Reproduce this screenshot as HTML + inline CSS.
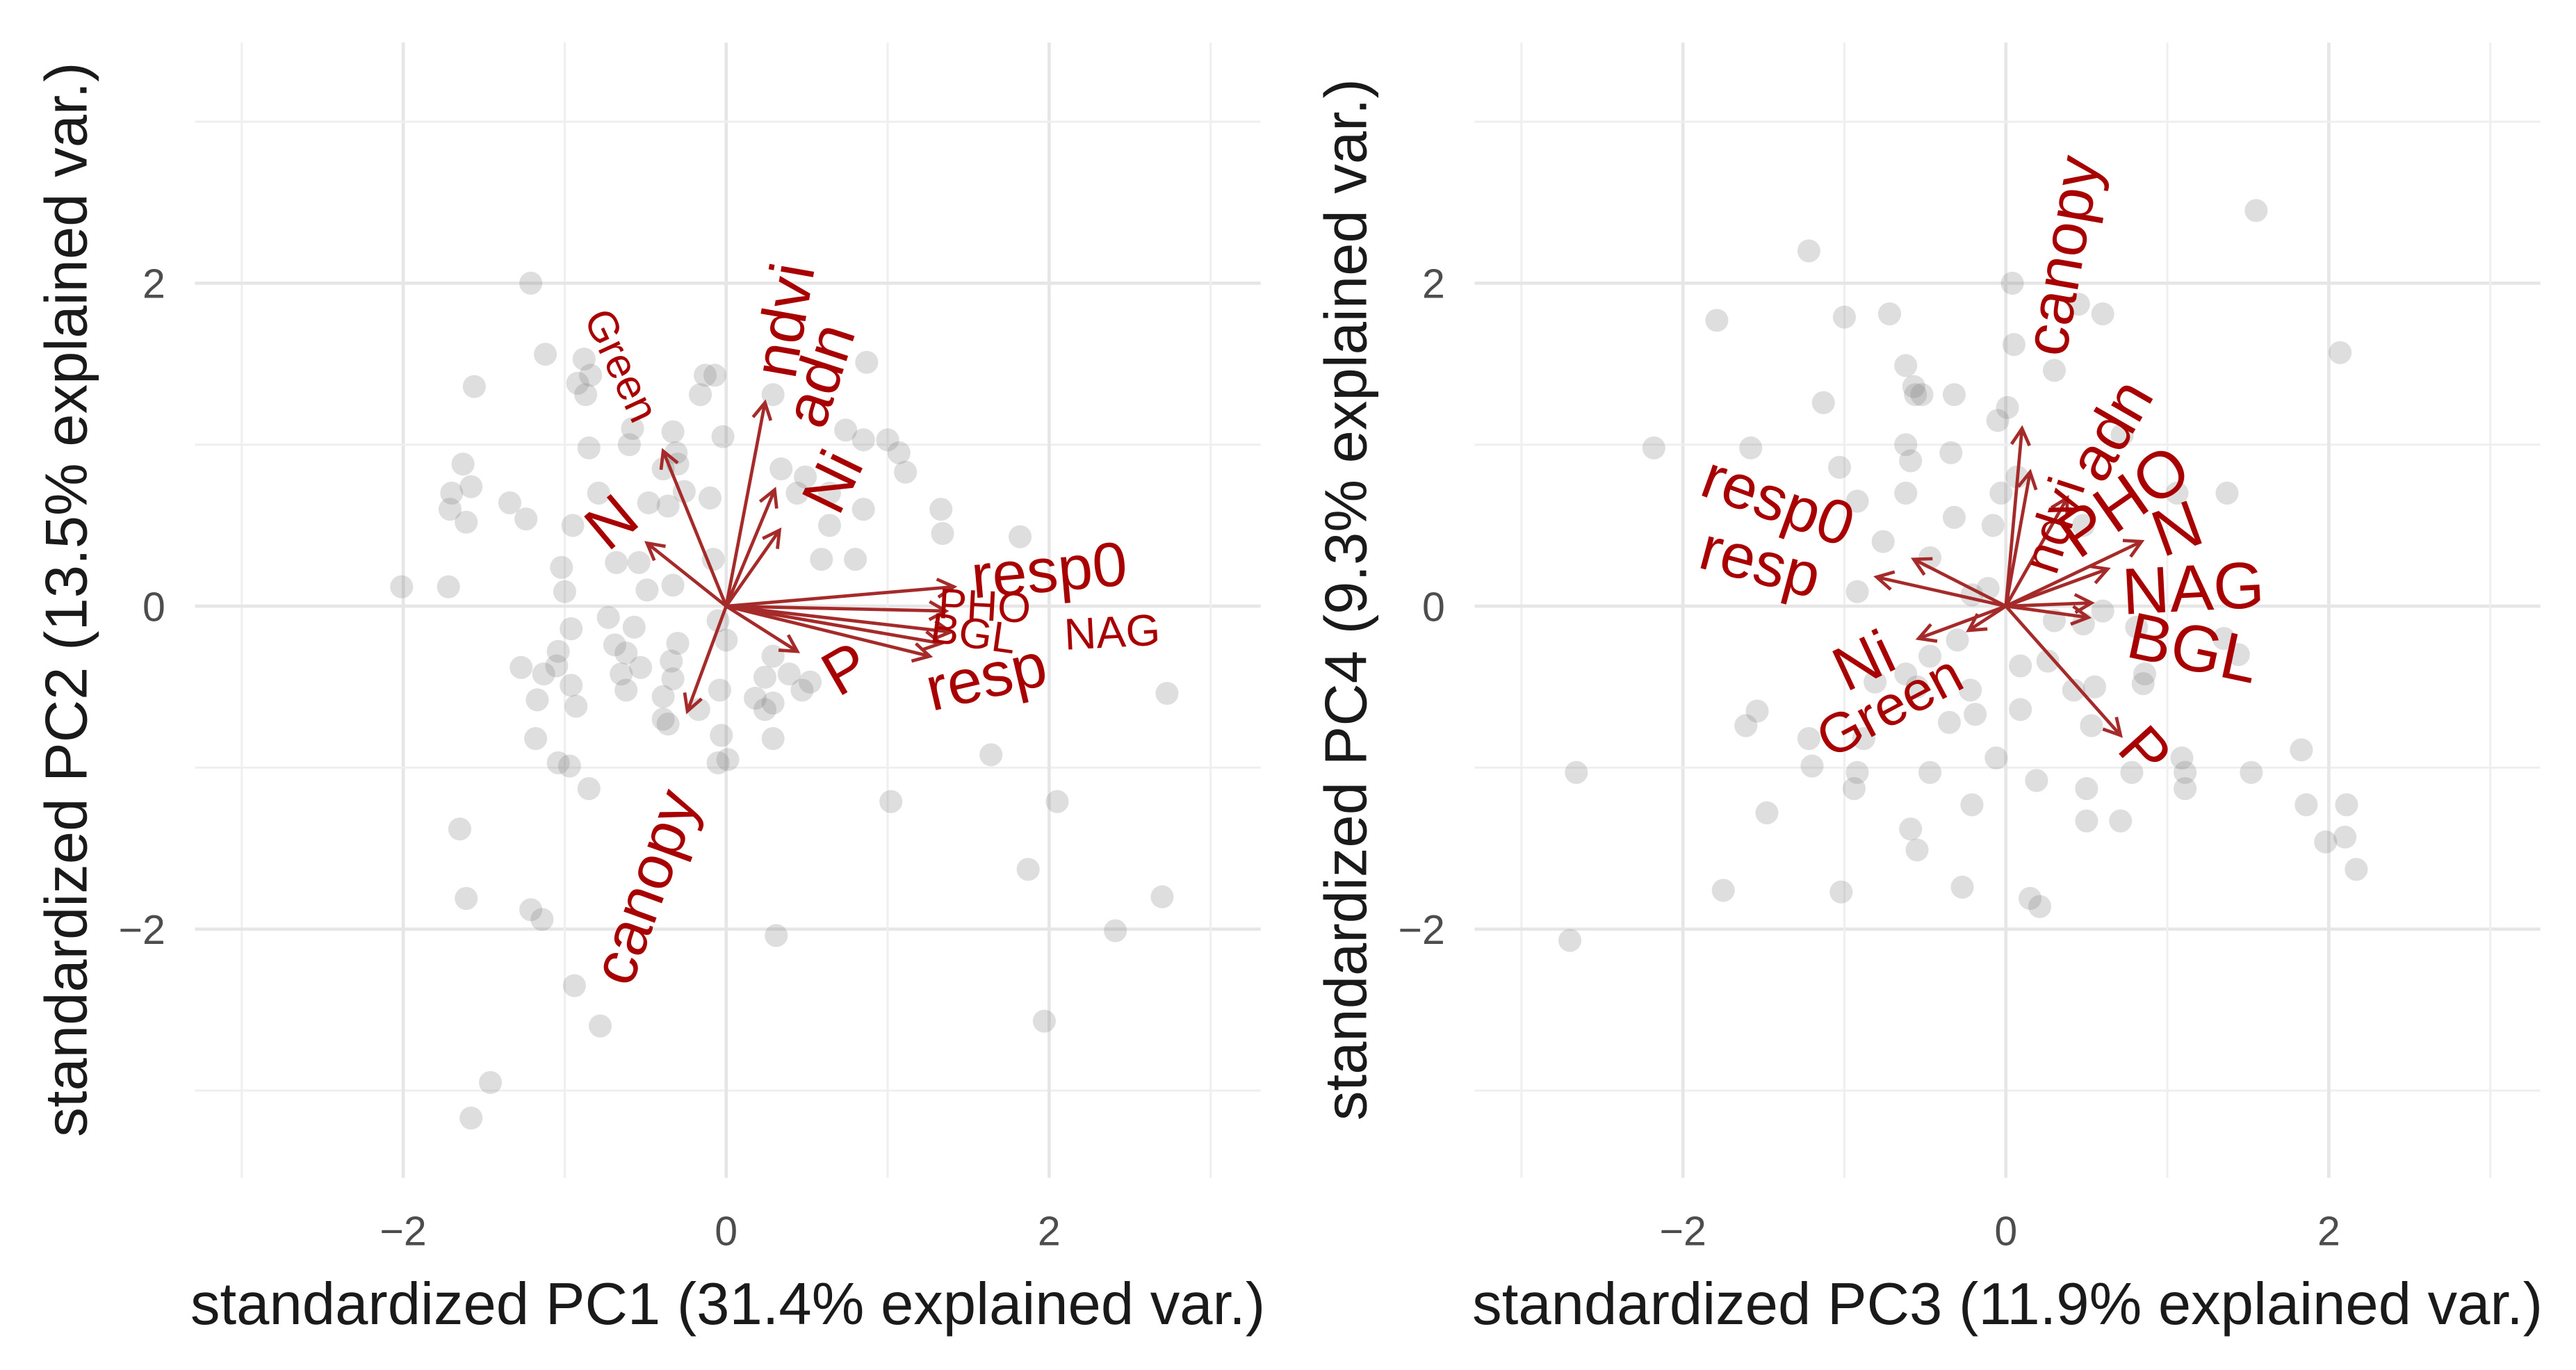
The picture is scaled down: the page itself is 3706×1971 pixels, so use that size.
<!DOCTYPE html>
<html><head><meta charset="utf-8"><style>
html,body{margin:0;padding:0;background:#fff;}
svg{display:block;font-family:"Liberation Sans",Arial,sans-serif;}
</style></head>
<body>
<svg id="chart" width="3706" height="1971" viewBox="0 0 1568 834" xmlns="http://www.w3.org/2000/svg">
<defs>
<marker id="ah" markerWidth="14" markerHeight="14" refX="11" refY="7" orient="auto" markerUnits="userSpaceOnUse">
<path d="M1,1.5 L11,7 L1,12.5" fill="none" stroke="#a52a2a" stroke-width="2"/>
</marker>
</defs>
<g id="p1"></g>
<g id="p2"></g>
</svg>
<script>
const ticks = [-2, 0, 2];
const gridVals = [-3, -2, -1, 0, 1, 2, 3];
const titles1 = ["standardized PC1 (31.4% explained var.)", "standardized PC2 (13.5% explained var.)"];
const titles2 = ["standardized PC3 (11.9% explained var.)", "standardized PC4 (9.3% explained var.)"];

const pts1x = [-2.01,-1.21,-1.12,-1.56,-1.63,-1.70,-1.71,-1.58,-1.61,-1.34,-1.24,-1.72,-0.88,-0.84,-0.92,-0.87,-0.58,-0.85,-0.79,-0.95,-1.02,-1.0,-0.96,-1.04,-1.05,-1.13,-1.27,-0.96,-0.93,-1.17,-1.04,-0.97,-0.85,-1.18,-1.65,-1.61,-1.21,-1.14,-0.94,-0.78,-1.46,-1.58,-0.73,-0.69,-0.62,-0.57,-0.65,-0.62,-0.53,-0.33,-0.39,-0.39,-0.36,-0.34,-0.30,-0.54,-0.49,-0.68,-0.48,-0.36,-0.26,-0.33,-0.31,-0.30,-0.39,-0.60,-0.13,-0.07,-0.16,-0.02,-0.10,-0.08,-0.33,-0.05,0.0,-0.04,-0.17,-0.03,-0.05,0.01,0.18,0.24,0.24,0.29,0.29,0.39,0.47,0.52,0.29,0.31,0.34,0.44,0.49,0.64,0.64,0.59,0.80,0.74,0.85,0.87,0.29,0.85,1.0,1.07,1.11,1.33,1.34,1.82,1.02,1.64,1.87,2.05,1.97,2.41,2.73,2.70];
const pts1y = [0.12,2.0,1.56,1.36,0.88,0.70,0.6,0.74,0.52,0.64,0.54,0.12,1.53,1.43,1.38,1.31,1.1,0.98,0.7,0.5,0.24,0.09,-0.14,-0.28,-0.37,-0.42,-0.38,-0.49,-0.62,-0.58,-0.97,-0.99,-1.13,-0.82,-1.38,-1.81,-1.88,-1.94,-2.35,-2.6,-2.95,-3.17,-0.07,-0.24,-0.29,-0.13,-0.42,-0.52,-0.38,-0.45,-0.56,-0.70,-0.73,-0.34,-0.23,0.27,0.10,0.27,0.64,0.62,0.71,1.08,0.95,0.88,0.85,1.0,1.43,1.43,1.31,1.05,0.67,0.29,0.13,-0.09,-0.21,-0.52,-0.64,-0.80,-0.97,-0.95,-0.57,-0.64,-0.44,-0.31,-0.60,-0.42,-0.52,-0.47,-0.82,-2.04,0.85,0.70,0.80,0.70,0.50,0.29,0.29,1.09,1.03,1.51,1.31,0.6,1.03,0.95,0.83,0.6,0.45,0.43,-1.21,-0.92,-1.63,-1.21,-2.57,-2.01,-0.54,-1.80];

const pts2x = [1.55,-1.22,-1.79,-1.0,-0.72,0.04,0.45,0.60,-2.18,-1.58,-1.13,-0.62,-0.57,-0.56,-0.52,-0.62,-0.59,-0.32,-0.34,-0.05,0.01,0.05,0.30,0.72,1.06,1.37,2.07,-1.03,-0.62,-0.92,-0.76,-0.32,-0.08,-0.03,0.07,0.48,-0.47,-0.92,-0.21,-0.11,0.30,0.48,0.60,0.81,1.35,1.44,-0.30,0.09,0.26,0.42,0.55,0.85,0.86,-0.81,-0.62,-0.47,-0.19,-0.35,-0.22,0.09,0.53,-1.54,-1.61,-1.22,-1.20,-0.92,-0.94,-0.47,-0.06,0.19,0.78,1.09,1.11,1.11,1.52,1.83,1.86,2.11,2.10,1.98,2.17,-2.66,-2.70,-1.75,-1.48,-1.02,-0.59,-0.55,-0.27,-0.21,0.15,0.21,0.50,0.50,0.71,-0.88,-0.55];
const pts2y = [2.45,2.2,1.77,1.79,1.81,2.0,1.87,1.81,0.98,0.98,1.26,1.49,1.36,1.31,1.31,1.0,0.90,1.31,0.95,1.15,1.23,1.62,1.46,1.06,0.70,0.70,1.57,0.86,0.70,0.65,0.40,0.55,0.50,0.70,0.80,0.50,0.30,0.09,0.07,0.11,-0.09,-0.11,-0.03,-0.13,-0.20,-0.30,-0.21,-0.37,-0.34,-0.52,-0.50,-0.48,-0.42,-0.47,-0.42,-0.31,-0.67,-0.72,-0.52,-0.64,-0.74,-0.65,-0.74,-0.82,-0.99,-1.03,-1.13,-1.03,-0.94,-1.08,-1.03,-0.94,-1.03,-1.13,-1.03,-0.89,-1.23,-1.23,-1.43,-1.46,-1.63,-1.03,-2.07,-1.76,-1.28,-1.77,-1.38,-1.51,-1.74,-1.23,-1.81,-1.86,-1.13,-1.33,-1.33,-0.82,-0.50];

const vars1 = ["Green","N","ndvi","adn","Ni","resp0","PHO","BGL","NAG","resp","P","canopy"];
const arr1x = [-0.39,-0.49,0.24,0.30,0.33,1.41,1.36,1.33,1.39,1.26,0.44,-0.24];
const arr1y = [0.96,0.39,1.26,0.72,0.47,0.12,-0.03,-0.23,-0.16,-0.31,-0.28,-0.65];
const lab1x = [-0.65,-0.71,0.36,0.58,0.66,2.0,1.6,1.53,2.39,1.61,0.74,-0.5];
const lab1y = [1.49,0.52,1.77,1.43,0.77,0.22,0.0,-0.17,-0.16,-0.44,-0.39,-1.74];
const lab1rot = [65,-40,-80,-72,-64,-5,3,8,-3,-13,-30,-70];
const lab1size = [26,38,38,38,38,38,26,26,27,38,38,38];

const vars2 = ["canopy","ndvi","adn","PHO","N","NAG","BGL","P","resp0","resp","Ni","Green"];
const arr2x = [0.10,0.15,0.38,0.84,0.63,0.53,0.51,0.71,-0.57,-0.80,-0.54,-0.23];
const arr2y = [1.10,0.83,0.67,0.40,0.23,0.02,-0.07,-0.80,0.29,0.18,-0.20,-0.15];
const lab2x = [0.35,0.30,0.65,0.73,1.06,1.16,1.16,0.86,-1.41,-1.52,-0.88,-0.72];
const lab2y = [2.17,0.50,1.09,0.65,0.48,0.11,-0.26,-0.90,0.65,0.27,-0.34,-0.62];
const lab2rot = [-80,-72,-60,-35,-20,-3,12,48,20,15,-25,-28];
const lab2size = [38,32,38,40,40,40,40,38,38,38,38,34];

const NS = "http://www.w3.org/2000/svg";
function mk(tag, attrs, parent){const e=document.createElementNS(NS,tag);for(const k in attrs)e.setAttribute(k,attrs[k]);parent.appendChild(e);return e;}

function drawPanel(g, x0, y0, unit, titles, px, py, vars, ax, ay, lx, ly, lrot, lsize, tag){
  const sx = v => x0 + v*unit;
  const sy = v => y0 - v*unit;
  const left = sx(-3.29), right = sx(3.31), top = sy(3.49), bottom = sy(-3.54);
  gridVals.forEach(v=>{
    const major = v%2===0;
    const lx1 = mk('line',{x1:sx(v),x2:sx(v),y1:top,y2:bottom,stroke:major?'#e6e6e6':'#efefef','stroke-width':major?2:1.3},g);
    
    
    const ly1 = mk('line',{x1:left,x2:right,y1:sy(v),y2:sy(v),stroke:major?'#e6e6e6':'#efefef','stroke-width':major?2:1.3},g);
    
    
  });
  ticks.forEach(v=>{
    const t = mk('text',{x:sx(v),y:758,'font-size':25,fill:'#4d4d4d','text-anchor':'middle'},g);
    t.textContent = v<0 ? '\u2212'+Math.abs(v) : String(v);
    
    
    const t2 = mk('text',{x:left-18,y:sy(v)+9,'font-size':25,fill:'#4d4d4d','text-anchor':'end'},g);
    t2.textContent = v<0 ? '\u2212'+Math.abs(v) : String(v);
    
    
  });
  for(let i=0;i<px.length;i++){
    const c = mk('circle',{cx:sx(px[i]),cy:sy(py[i]),r:7,fill:'#7a7a7a','fill-opacity':0.25},g);
    
    
  }
  for(let i=0;i<vars.length;i++){
    const l = mk('line',{x1:x0,y1:y0,x2:sx(ax[i]),y2:sy(ay[i]),stroke:'#a52a2a','stroke-width':2,'marker-end':'url(#ah)'},g);
    
    
  }
  for(let i=0;i<vars.length;i++){
    const X=sx(lx[i]), Y=sy(ly[i]);
    const t = mk('text',{x:X,y:Y,'font-size':lsize[i],fill:'#a80000','text-anchor':'middle','dominant-baseline':'central',transform:'rotate('+lrot[i]+' '+X+' '+Y+')'},g);
    t.textContent = vars[i];
    
    
  }
  const xt = mk('text',{x:x0+1,y:806,'font-size':36,fill:'#1a1a1a','text-anchor':'middle'},g);
  xt.textContent = titles[0];
  
  
  const tx = left-66, ty = 365;
  const yt = mk('text',{x:tx,y:ty,'font-size':36,fill:'#1a1a1a','text-anchor':'middle',transform:'rotate(-90 '+tx+' '+ty+')'},g);
  yt.textContent = titles[1];
  
  
}
drawPanel(document.getElementById('p1'), 442, 369, 98.3, titles1, pts1x, pts1y, vars1, arr1x, arr1y, lab1x, lab1y, lab1rot, lab1size, 'pc12');
drawPanel(document.getElementById('p2'), 1221, 369, 98.3, titles2, pts2x, pts2y, vars2, arr2x, arr2y, lab2x, lab2y, lab2rot, lab2size, 'pc34');
</script>
</body></html>
